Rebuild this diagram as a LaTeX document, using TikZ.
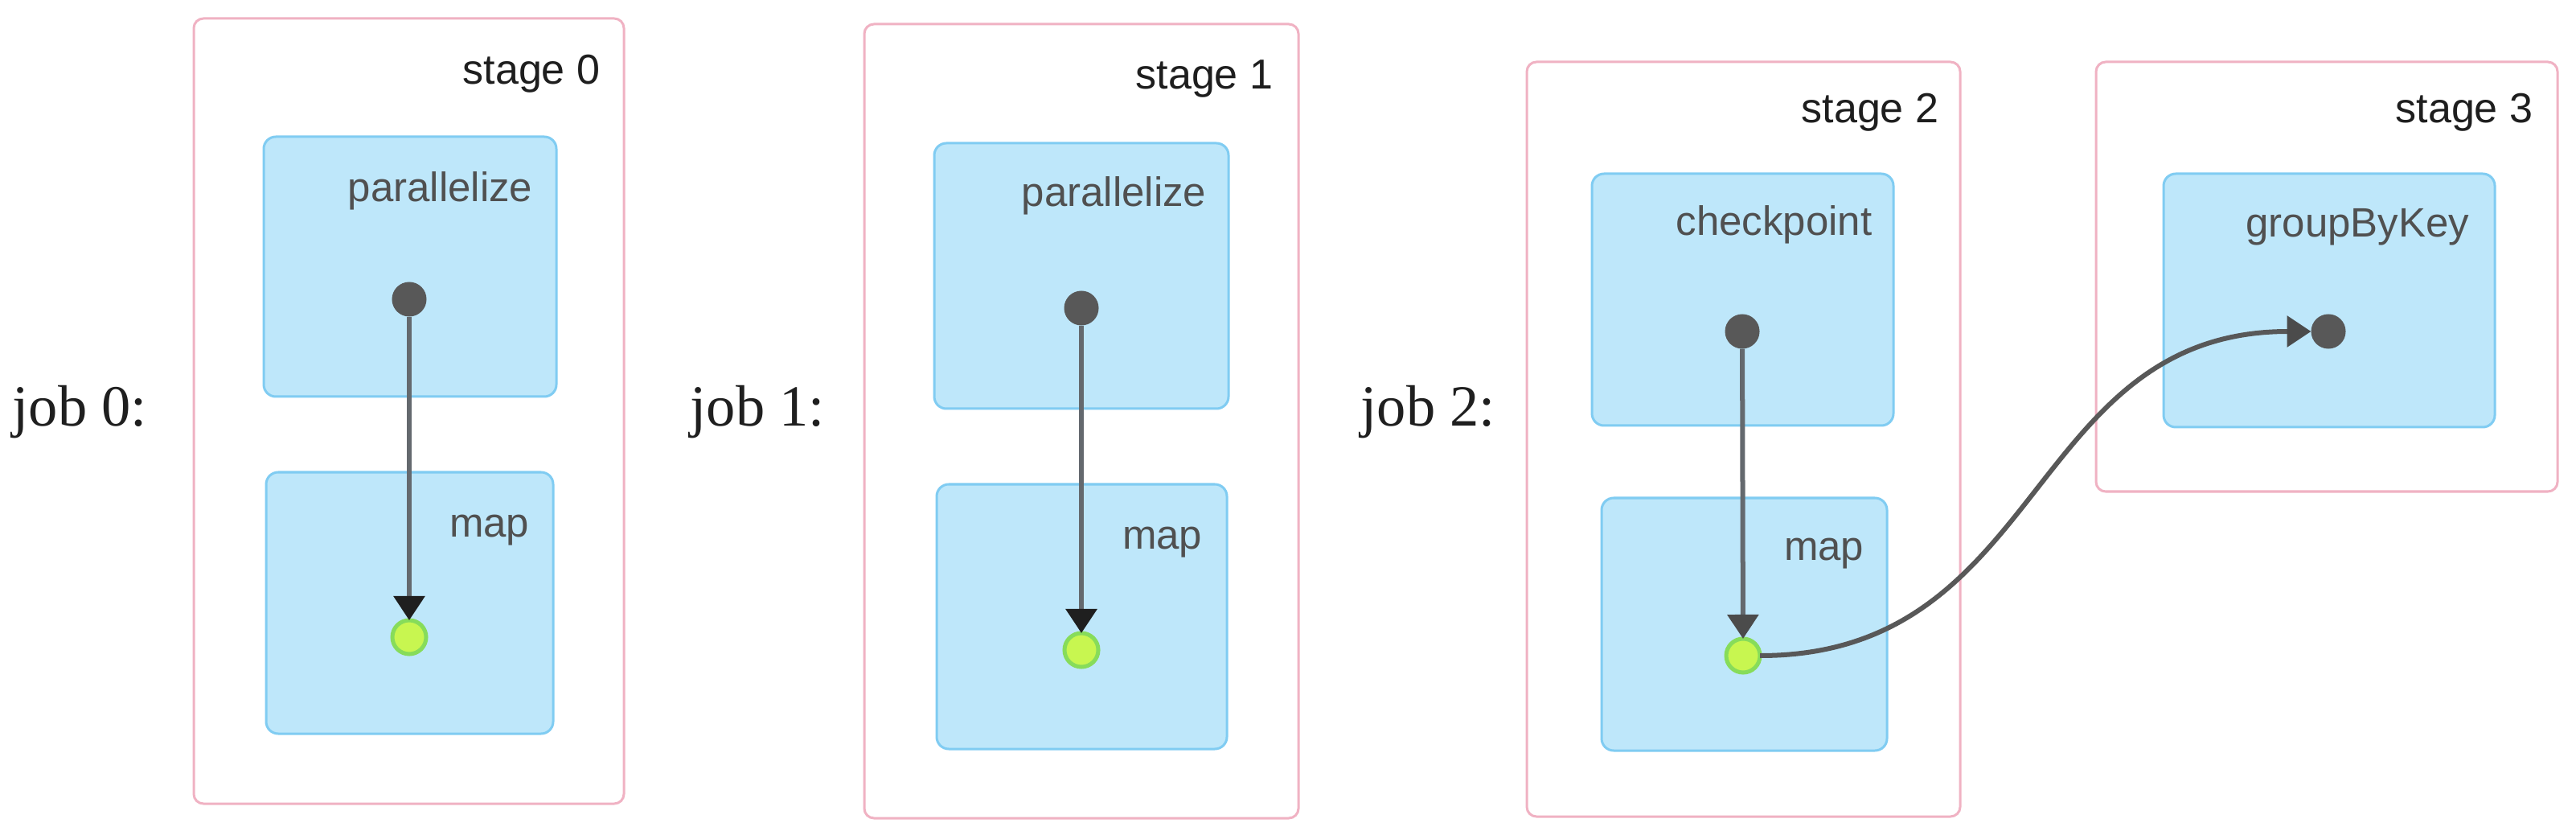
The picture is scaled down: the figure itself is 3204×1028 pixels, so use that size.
\documentclass[tikz,border=0pt]{standalone}
\usepackage{fontspec}
\setmainfont{Liberation Serif}
\newfontfamily\uisans{Liberation Sans}
\usetikzlibrary{arrows.meta,fit}
\definecolor{stageborder}{RGB}{240,178,195}
\definecolor{opfill}{RGB}{190,231,250}
\definecolor{opborder}{RGB}{128,204,242}
\definecolor{dotgray}{RGB}{88,88,88}
\definecolor{greenfill}{RGB}{200,246,80}
\definecolor{greenborder}{RGB}{135,220,90}
\definecolor{linegray}{RGB}{100,105,110}
\definecolor{nodetext}{RGB}{80,80,80}
\definecolor{stagetext}{RGB}{30,30,30}
\tikzset{
  stagebox/.style={draw=stageborder, fill=white, line width=0.03cm, rounded corners=0.12cm, inner sep=0pt, outer sep=0pt},
  opbox/.style={draw=opborder, fill=opfill, line width=0.03cm, rounded corners=0.15cm, inner sep=0pt, outer sep=0pt},
  graydot/.style={circle, fill=dotgray, draw=none, minimum size=0.43cm, inner sep=0pt, outer sep=0pt},
  greendot/.style={circle, fill=greenfill, draw=greenborder, line width=0.05cm, minimum size=0.42cm, inner sep=0pt, outer sep=0pt},
  stagelbl/.style={anchor=base east, inner sep=0pt, text=stagetext, font=\uisans\fontsize{14.8pt}{16pt}\selectfont},
  oplbl/.style={anchor=base east, inner sep=0pt, text=nodetext, font=\uisans\fontsize{14.5pt}{16pt}\selectfont},
  joblbl/.style={anchor=base west, inner sep=0pt, text=black!88, font=\fontsize{20.6pt}{22pt}\selectfont},
  flow/.style={draw=linegray, line width=0.06cm, -{Triangle[length=0.30cm, width=0.38cm, fill=#1, color=#1]}},
  flow/.default={black!88}
}
\begin{document}
\begin{tikzpicture}[x=0.01cm, y=-0.01cm]
\useasboundingbox (0,0) rectangle (3204,1028);
\fill[white] (0,0) rectangle (3204,1028);

% job labels
\node[joblbl] (j0) at (15,530) {job 0:};
\node[joblbl] (j1) at (858,530) {job 1:};
\node[joblbl] (j2) at (1692,530) {job 2:};

% stage boxes
\node[stagebox, fit={(241,23) (776,999)}] (s0) {};
\node[stagebox, fit={(1075,30) (1615,1017)}] (s1) {};
\node[stagebox, fit={(1899,77) (2438,1015)}] (s2) {};
\node[stagebox, fit={(2607,77) (3181,611)}] (s3) {};

\node[stagelbl] (t0) at (747,105) {stage 0};
\node[stagelbl] (t1) at (1584,111) {stage 1};
\node[stagelbl] (t2) at (2412,153) {stage 2};
\node[stagelbl] (t3) at (3151,153) {stage 3};

% operation boxes
\node[opbox, fit={(328,170) (692,493)}] (p0) {};
\node[opbox, fit={(331,587) (688,912)}] (m0) {};
\node[opbox, fit={(1162,178) (1528,508)}] (p1) {};
\node[opbox, fit={(1165,602) (1526,931)}] (m1) {};
\node[opbox, fit={(1980,216) (2355,529)}] (c2) {};
\node[opbox, fit={(1992,619) (2347,933)}] (m2) {};
\node[opbox, fit={(2691,216) (3103,531)}] (g3) {};

\node[oplbl] (lp0) at (663,251) {parallelize};
\node[oplbl] (lm0) at (659,667) {map};
\node[oplbl] (lp1) at (1501,257) {parallelize};
\node[oplbl] (lm1) at (1496,682) {map};
\node[oplbl] (lc2) at (2329,293) {checkpoint};
\node[oplbl] (lm2) at (2319,696) {map};
\node[oplbl] (lg3) at (3072,295) {groupByKey};

% dots
\node[graydot] (d0a) at (509,372) {};
\node[greendot] (d0b) at (509,792) {};
\node[graydot] (d1a) at (1345,383) {};
\node[greendot] (d1b) at (1345,808) {};
\node[graydot] (d2a) at (2167,412) {};
\node[greendot] (d2b) at (2168,815) {};
\node[graydot] (d3a) at (2896,412) {};

% connectors
\draw[flow] (d0a) -- (d0b);
\draw[flow] (d1a) -- (d1b);
\draw[flow={dotgray!85!black}] (d2a) -- (d2b);
\draw[flow={dotgray!85!black}, draw=dotgray] (d2b.east) .. controls (2545,815) and (2520,412) .. (d3a.west);
\end{tikzpicture}
\end{document}
